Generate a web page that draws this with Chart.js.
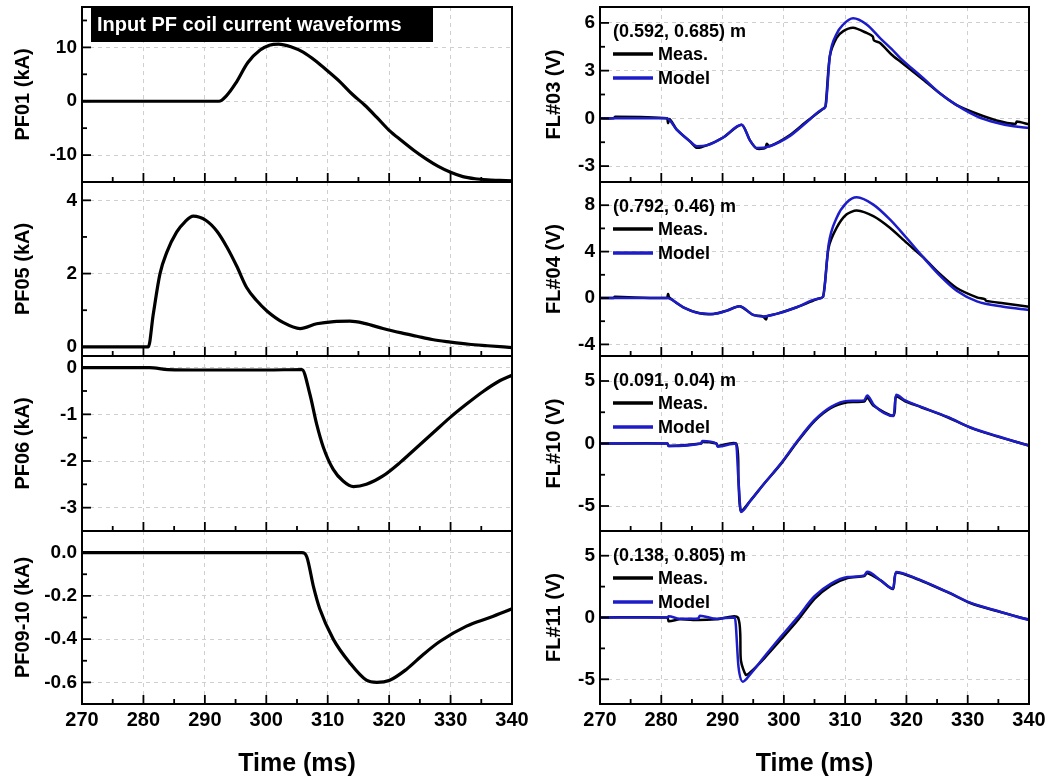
<!DOCTYPE html>
<html>
<head>
<meta charset="utf-8">
<script src="https://cdn.jsdelivr.net/npm/chart.js@4.4.0/dist/chart.umd.min.js"></script>
<style>
  html, body { margin: 0; padding: 0; background: #fff; }
  body { width: 1062px; height: 782px; position: relative; overflow: hidden; }
  canvas { position: absolute; }
</style>
</head>
<body>
<script>
// shared time axis (ms)
const xMin = 270, xMax = 340;
const xTicks = [270, 280, 290, 300, 310, 320, 330, 340];

// ---- left column: input PF coil currents (kA) ----
const pf01Time = [270, 280, 292.3, 293.5, 295, 297, 299, 300.5, 302, 304, 306, 308, 310, 312, 314, 316, 318, 320, 322, 324, 326, 328, 330, 332, 334, 336, 338, 340];
const pf01Cur  = [0, 0, 0, 1.0, 3.3, 7.2, 9.5, 10.4, 10.6, 10.1, 9.1, 7.5, 5.6, 3.6, 1.3, -0.7, -3.0, -5.4, -7.3, -9.1, -10.7, -12.1, -13.2, -14.0, -14.4, -14.6, -14.7, -14.8];

const pf05Time = [270, 280.8, 281.6, 282.7, 283.8, 285.4, 286.8, 288.1, 290.2, 292, 293.6, 295.2, 296.8, 298.5, 300.1, 302.8, 305.5, 308.2, 311, 313.6, 316, 319, 322, 324.5, 327, 330, 333, 336, 340];
const pf05Cur  = [0, 0, 0.89, 2.0, 2.58, 3.13, 3.42, 3.57, 3.45, 3.15, 2.72, 2.2, 1.62, 1.25, 0.98, 0.66, 0.5, 0.63, 0.69, 0.7, 0.64, 0.5, 0.38, 0.29, 0.2, 0.13, 0.07, 0.03, -0.02];

const pf06Time = [270, 281, 284, 290, 300, 305.8, 307.1, 308.2, 309.3, 310.9, 312.5, 314.2, 316.3, 319, 321.8, 324.5, 327.2, 329.9, 332.6, 335.3, 338, 340];
const pf06Cur  = [0, 0, -0.04, -0.05, -0.05, -0.04, -0.57, -1.21, -1.71, -2.18, -2.43, -2.55, -2.5, -2.32, -2.03, -1.71, -1.39, -1.07, -0.78, -0.51, -0.28, -0.16];

const pf0910Time = [270, 305.8, 306.6, 307.7, 308.7, 310.9, 313.6, 316.3, 318, 320.1, 322.8, 325.6, 328.3, 332.6, 336.4, 340];
const pf0910Cur  = [0, 0, -0.02, -0.16, -0.26, -0.4, -0.51, -0.59, -0.6, -0.59, -0.54, -0.47, -0.41, -0.34, -0.3, -0.26];

// ---- right column: flux loop voltages (V) ----
const fl03ModelTime = [270, 280.9, 282.5, 284.7, 285.8, 287.4, 290.1, 293.1, 294.5, 295.6, 297.7, 301, 303.7, 306.4, 306.8, 307.5, 308.6, 309.7, 311.3, 313.5, 315.7, 317.6, 319, 322.8, 325.5, 328.2, 331.5, 334.7, 337.5, 340];
const fl03Model     = [0, 0, -0.7, -1.45, -1.75, -1.7, -1.2, -0.4, -1.4, -1.87, -1.75, -1.1, -0.25, 0.6, 0.75, 3.9, 5.3, 5.9, 6.29, 5.9, 5.05, 4.35, 3.79, 2.51, 1.56, 0.83, 0.13, -0.28, -0.5, -0.6];
const fl03MeasTime  = [270, 272.2, 272.5, 280.9, 281.1, 281.4, 282.5, 284.7, 285.8, 287.4, 290.1, 293.1, 294.5, 295.6, 297.0, 297.2, 297.7, 301, 303.7, 306.4, 306.8, 307.5, 308.6, 309.7, 311.3, 313.5, 314.5, 314.7, 315.7, 317.6, 319, 322.8, 325.5, 328.2, 331.5, 334.7, 337.8, 338.0, 340];
const fl03Meas      = [0, 0, 0.1, 0, -0.3, -0.05, -0.7, -1.45, -1.85, -1.7, -1.2, -0.4, -1.4, -1.9, -1.85, -1.6, -1.75, -1.05, -0.2, 0.6, 0.75, 3.9, 5.05, 5.48, 5.69, 5.37, 5.15, 4.9, 4.74, 4.0, 3.57, 2.41, 1.56, 0.83, 0.29, -0.13, -0.35, -0.2, -0.38];

const fl04ModelTime = [270, 280.9, 283.6, 286.3, 288.5, 290.7, 292.8, 295, 296.6, 298.8, 302.1, 305.4, 306.4, 307.3, 308.6, 310.2, 311.9, 314.6, 317.3, 320, 322.8, 325.5, 328.2, 331.5, 335.8, 340];
const fl04Model     = [0, 0, -0.8, -1.32, -1.37, -1.09, -0.72, -1.46, -1.6, -1.37, -0.8, -0.09, 0.11, 4.6, 6.9, 8.2, 8.68, 8.05, 6.77, 5.19, 3.48, 1.91, 0.63, -0.29, -0.75, -1.03];
const fl04MeasTime  = [270, 272.2, 272.4, 280.9, 281.1, 281.3, 283.6, 286.3, 288.5, 290.7, 292.8, 295, 296.6, 297.1, 297.3, 298.8, 302.1, 305.4, 306.4, 307.3, 308.6, 310.2, 311.9, 314.6, 317.3, 320, 322.8, 325.5, 328.2, 331.5, 332.8, 333.0, 335.8, 340];
const fl04Meas      = [0, 0, 0.1, 0, 0.35, 0.05, -0.8, -1.32, -1.37, -1.09, -0.72, -1.46, -1.6, -1.85, -1.55, -1.37, -0.8, -0.09, 0.11, 4.34, 6.05, 7.2, 7.54, 7.05, 6.05, 4.77, 3.48, 2.05, 0.86, 0.05, -0.1, -0.25, -0.46, -0.75];

const fl10Time  = [270, 281, 281.2, 286.5, 286.7, 289, 289.2, 292.2, 292.6, 293.0, 294.5, 296.8, 299.5, 302.3, 305, 307.7, 310.4, 313.1, 313.6, 314.7, 317.9, 318.3, 319.7, 322.4, 326.7, 330.5, 334.9, 339.8, 340];
const fl10Model = [0, 0, -0.2, 0, 0.2, 0, -0.25, 0, -3.0, -5.47, -4.6, -3.2, -1.6, 0.26, 1.86, 2.93, 3.41, 3.45, 3.85, 3.07, 2.2, 3.9, 3.47, 2.93, 2.13, 1.28, 0.58, -0.14, -0.16];
const fl10Meas  = [0, 0, -0.2, 0, 0.15, 0, -0.2, 0, -3.0, -5.4, -4.6, -3.2, -1.65, 0.2, 1.8, 2.85, 3.3, 3.35, 3.7, 3.0, 2.25, 3.75, 3.4, 2.9, 2.1, 1.25, 0.55, -0.14, -0.2];

const fl11ModelTime = [270, 281, 281.2, 283, 286, 286.3, 289, 292.0, 292.6, 293.3, 294.5, 296.8, 299.5, 302.3, 305, 307.7, 310.4, 313.1, 313.6, 315.8, 317.8, 318.3, 321.3, 326.7, 330.5, 334.9, 339.8, 340];
const fl11Model     = [0, 0, 0.1, -0.1, -0.1, 0.15, -0.1, 0, -4.0, -5.19, -4.6, -3.18, -1.56, 0.05, 1.72, 2.74, 3.27, 3.41, 3.7, 3.0, 2.34, 3.68, 3.23, 2.07, 1.18, 0.53, -0.16, -0.17];
const fl11MeasTime  = [270, 281, 281.2, 283, 286, 289, 292.5, 293.0, 293.8, 294.5, 296.8, 299.5, 302.3, 305, 307.7, 310.4, 313.1, 313.6, 315.8, 317.8, 318.3, 321.3, 326.7, 330.5, 334.9, 339.8, 340];
const fl11Meas      = [0, 0, -0.3, -0.15, -0.2, -0.15, 0, -3.5, -4.65, -4.45, -3.3, -1.8, -0.2, 1.5, 2.6, 3.2, 3.35, 3.6, 3.0, 2.3, 3.6, 3.2, 2.05, 1.15, 0.5, -0.16, -0.2];

const FONT = '"Liberation Sans", Arial, sans-serif';
const BLUE = '#1c1cc8';
const GRID = '#cfcfcf';

// plot rows (top edges + last bottom edge) and column plot bounds
const rowEdges = [7, 182, 356, 531, 704];
const cols = [
  {left: 0, yWidth: 82, padRight: 19},
  {left: 531, yWidth: 69, padRight: 33}
];

const meas = (t, v) => ({label: 'Meas.', t, v, color: '#000', width: 2.5, order: 1, tension: 0.25});
const model = (t, v) => ({label: 'Model', t, v, color: BLUE, width: 2.5, order: 0, mono: true});
const coil = (t, v) => ({label: '', t, v, color: '#000', width: 3.2, order: 0, mono: true});

const panels = [
  {col: 0, row: 0, title: 'PF01 (kA)', min: -15, max: 17.5, major: [-10, 0, 10], minor: [-5, 5, 15], dec: 0,
   series: [coil(pf01Time, pf01Cur)], banner: 'Input PF coil current waveforms'},
  {col: 0, row: 1, title: 'PF05 (kA)', min: -0.25, max: 4.5, major: [0, 2, 4], minor: [1, 3], dec: 0,
   series: [coil(pf05Time, pf05Cur)]},
  {col: 0, row: 2, title: 'PF06 (kA)', min: -3.5, max: 0.25, major: [-3, -2, -1, 0], minor: [-2.5, -1.5, -0.5], dec: 0,
   series: [coil(pf06Time, pf06Cur)]},
  {col: 0, row: 3, title: 'PF09-10 (kA)', min: -0.7, max: 0.1, major: [-0.6, -0.4, -0.2, 0], minor: [-0.5, -0.3, -0.1], dec: 1,
   series: [coil(pf0910Time, pf0910Cur)]},
  {col: 1, row: 0, title: 'FL#03 (V)', min: -4, max: 7, major: [-3, 0, 3, 6], minor: [-1.5, 1.5, 4.5], dec: 0,
   series: [meas(fl03MeasTime, fl03Meas), model(fl03ModelTime, fl03Model)], pos: '(0.592, 0.685) m'},
  {col: 1, row: 1, title: 'FL#04 (V)', min: -5, max: 10, major: [-4, 0, 4, 8], minor: [-2, 2, 6], dec: 0,
   series: [meas(fl04MeasTime, fl04Meas), model(fl04ModelTime, fl04Model)], pos: '(0.792, 0.46) m'},
  {col: 1, row: 2, title: 'FL#10 (V)', min: -7, max: 7, major: [-5, 0, 5], minor: [-2.5, 2.5], dec: 0,
   series: [meas(fl10Time, fl10Meas), model(fl10Time, fl10Model)], pos: '(0.091, 0.04) m'},
  {col: 1, row: 3, title: 'FL#11 (V)', min: -7, max: 7, major: [-5, 0, 5], minor: [-2.5, 2.5], dec: 0,
   series: [meas(fl11MeasTime, fl11Meas), model(fl11ModelTime, fl11Model)], pos: '(0.138, 0.805) m'}
];

// box, inward ticks, banner and in-plot legend
function framePlugin(p) {
  return {
    id: 'frame',
    afterDatasetsDraw(chart) {
      const {ctx, chartArea: a, scales: {x, y}} = chart;
      const seg = (x1, y1, x2, y2) => { ctx.beginPath(); ctx.moveTo(x1, y1); ctx.lineTo(x2, y2); ctx.stroke(); };
      ctx.save();
      ctx.strokeStyle = '#000';
      ctx.lineWidth = 1.8;
      for (let t = xMin + 5; t < xMax; t += 5) {
        const px = x.getPixelForValue(t);
        seg(px, a.bottom, px, a.bottom - (t % 10 === 0 ? 9 : 5));
      }
      p.major.forEach(v => { const py = y.getPixelForValue(v); seg(a.left, py, a.left + 9, py); });
      p.minor.forEach(v => { const py = y.getPixelForValue(v); seg(a.left, py, a.left + 5, py); });
      ctx.lineWidth = 2;
      ctx.strokeRect(a.left, a.top, a.right - a.left, a.bottom - a.top);

      if (p.banner) {
        ctx.fillStyle = '#000';
        ctx.fillRect(a.left + 9, a.top, 342, 35);
        ctx.fillStyle = '#fff';
        ctx.font = 'bold 20px ' + FONT;
        ctx.textBaseline = 'middle';
        ctx.fillText(p.banner, a.left + 15, a.top + 18);
      }
      if (p.pos) {
        ctx.fillStyle = '#000';
        ctx.font = 'bold 18px ' + FONT;
        ctx.textBaseline = 'middle';
        ctx.fillText(p.pos, a.left + 13, a.top + 25);
        chart.data.datasets.forEach((ds, i) => {
          const yy = a.top + 47 + i * 24;
          ctx.strokeStyle = ds.borderColor;
          ctx.lineWidth = 3.5;
          seg(a.left + 13, yy, a.left + 53, yy);
          ctx.fillStyle = '#000';
          ctx.fillText(ds.label, a.left + 58, yy + 1);
        });
      }
      ctx.restore();
    }
  };
}

panels.forEach(p => {
  const c = cols[p.col];
  const last = p.row === rowEdges.length - 2;
  const top = rowEdges[p.row] - 6;
  const height = last ? 782 - top : rowEdges[p.row + 1] - rowEdges[p.row] + 12;
  const cv = document.createElement('canvas');
  cv.width = 531; cv.height = height;
  cv.style.left = c.left + 'px';
  cv.style.top = top + 'px';
  cv.style.width = '531px';
  cv.style.height = height + 'px';
  document.body.appendChild(cv);

  new Chart(cv, {
    type: 'line',
    data: {
      datasets: p.series.map(s => ({
        label: s.label,
        data: s.t.map((t, i) => ({x: t, y: s.v[i]})),
        borderColor: s.color,
        borderWidth: s.width,
        pointRadius: 0,
        fill: false,
        order: s.order,
        tension: s.tension || 0,
        cubicInterpolationMode: s.mono ? 'monotone' : 'default'
      }))
    },
    options: {
      responsive: false,
      animation: false,
      layout: {padding: {left: 0, right: c.padRight, top: 6, bottom: last ? 0 : 6}},
      plugins: {legend: {display: false}, tooltip: {enabled: false}},
      scales: {
        x: {
          type: 'linear', min: xMin, max: xMax,
          afterBuildTicks: s => { s.ticks = xTicks.map(v => ({value: v})); },
          afterFit: s => { s.height = last ? 78 : 0; s.paddingLeft = 0; s.paddingRight = 0; },
          grid: {color: GRID, lineWidth: 1, drawTicks: false},
          border: {display: false, dash: [4, 4]},
          ticks: {display: last, padding: 4, color: '#000', maxRotation: 0, autoSkip: false,
                  font: {family: FONT, size: 20, weight: 'bold'}},
          title: {display: last, text: 'Time (ms)', color: '#000', padding: {top: 0, bottom: 3},
                  font: {family: FONT, size: 25, weight: 'bold'}}
        },
        y: {
          type: 'linear', min: p.min, max: p.max,
          afterBuildTicks: s => { s.ticks = p.major.map(v => ({value: v})); },
          afterFit: s => { s.width = c.yWidth; s.paddingTop = 0; s.paddingBottom = 0; },
          grid: {color: GRID, lineWidth: 1, drawTicks: false},
          border: {display: false, dash: [4, 4]},
          ticks: {padding: 5, color: '#000', callback: v => Number(v).toFixed(p.dec),
                  font: {family: FONT, size: 19, weight: 'bold'}},
          title: {display: true, text: p.title, color: '#000', padding: {top: 11, bottom: 0},
                  font: {family: FONT, size: 20, weight: 'bold'}}
        }
      }
    },
    plugins: [framePlugin(p)]
  });
});
</script>
</body>
</html>
